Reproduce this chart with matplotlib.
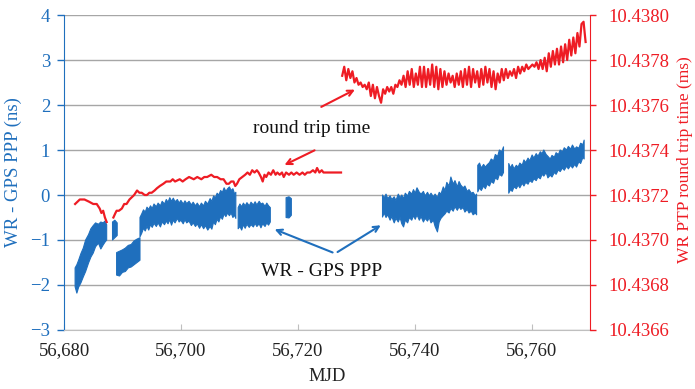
import numpy as np
import matplotlib
matplotlib.use("Agg")
import matplotlib.pyplot as plt
from matplotlib.ticker import MultipleLocator, StrMethodFormatter

# WR - GPS PPP (ns): envelope of the noisy band, NaN separates the data gaps
blue_mjd = [56681.9, 56682.2, 56682.5, 56682.9, 56683.3, 56683.7, 56684.2, 56684.6,
            56685.0, 56685.4, 56685.9, 56686.3, 56686.7, 56687.0, 56687.3, np.nan,
            56688.3, 56688.7, 56689.1, np.nan,
            56689.0, 56689.5, 56690.0, 56690.5, 56691.0, 56691.5, 56692.0, 56692.5, 56693.0, np.nan,
            56693.0, 56693.3, 56693.6, 56693.9, 56694.2, 56694.5, 56694.8, 56695.1, 56695.4,
            56695.8, 56696.1, 56696.5, 56696.8, 56697.2, 56697.5, 56697.8, 56698.1, 56698.4,
            56698.7, 56699.0, 56699.4, 56699.7, 56700.0, 56700.4, 56700.7, 56701.0, 56701.4,
            56701.8, 56702.1, 56702.5, 56702.8, 56703.2, 56703.5, 56703.9, 56704.2, 56704.6,
            56705.0, 56705.3, 56705.6, 56705.9, 56706.2, 56706.5, 56706.8, 56707.1, 56707.4,
            56707.7, 56708.0, 56708.3, 56708.6, 56708.9, 56709.2, 56709.4, np.nan,
            56709.8, 56710.1, 56710.4, 56710.7, 56711.0, 56711.3, 56711.7, 56712.0, 56712.4,
            56712.7, 56713.0, 56713.4, 56713.7, 56714.0, 56714.4, 56714.7, 56715.0, 56715.3, np.nan,
            56718.0, 56718.5, 56718.9, np.nan,
            56734.5, 56734.8, 56735.1, 56735.4, 56735.8, 56736.1, 56736.5, 56736.8, 56737.2,
            56737.5, 56737.8, 56738.1, 56738.4, 56738.8, 56739.1, 56739.5, 56739.8, 56740.1,
            56740.4, 56740.8, 56741.1, 56741.5, 56741.8, 56742.2, 56742.5, 56742.8, 56743.2,
            56743.5, 56743.9, 56744.2, 56744.5, 56744.9, 56745.2, 56745.5, 56745.9, 56746.2,
            56746.6, 56746.9, 56747.3, 56747.6, 56747.9, 56748.3, 56748.6, 56749.0, 56749.3,
            56749.7, 56750.0, 56750.4, 56750.6, np.nan,
            56750.8, 56751.1, 56751.4, 56751.8, 56752.1, 56752.4, 56752.8, 56753.1, 56753.5,
            56753.8, 56754.2, 56754.5, 56754.9, 56755.2, np.nan,
            56756.1, 56756.4, 56756.7, 56757.0, 56757.4, 56757.7, 56758.0, 56758.4, 56758.7,
            56759.0, 56759.4, 56759.7, 56760.1, 56760.4, 56760.8, 56761.1, 56761.5, 56761.8,
            56762.1, 56762.5, 56762.8, 56763.2, 56763.5, 56763.9, 56764.2, 56764.6, 56764.9,
            56765.3, 56765.6, 56766.0, 56766.3, 56766.7, 56767.0, 56767.4, 56767.7, 56768.1,
            56768.4, 56768.8, 56769.0]
blue_low = [-2.04, -2.18, -2.05, -1.95, -1.82, -1.70, -1.51, -1.38,
            -1.29, -1.15, -1.07, -1.20, -1.11, -1.05, -1.00, np.nan,
            -1.00, -0.95, -0.90, np.nan,
            -1.78, -1.80, -1.72, -1.70, -1.62, -1.60, -1.55, -1.50, -1.45, np.nan,
            -0.93, -0.85, -0.74, -0.80, -0.70, -0.78, -0.66, -0.72, -0.63,
            -0.70, -0.62, -0.71, -0.60, -0.66, -0.58, -0.64, -0.55, -0.67,
            -0.56, -0.62, -0.52, -0.60, -0.56, -0.64, -0.55, -0.62, -0.58,
            -0.68, -0.62, -0.70, -0.64, -0.74, -0.66, -0.75, -0.68, -0.78,
            -0.70, -0.76, -0.60, -0.66, -0.54, -0.60, -0.48, -0.54, -0.42,
            -0.48, -0.40, -0.46, -0.40, -0.50, -0.45, -0.52, np.nan,
            -0.75, -0.70, -0.78, -0.66, -0.74, -0.65, -0.72, -0.66, -0.71,
            -0.63, -0.70, -0.64, -0.73, -0.64, -0.70, -0.62, -0.67, -0.60, np.nan,
            -0.50, -0.51, -0.45, np.nan,
            -0.49, -0.40, -0.50, -0.44, -0.56, -0.48, -0.62, -0.52, -0.60,
            -0.50, -0.64, -0.71, -0.56, -0.62, -0.50, -0.56, -0.46, -0.54,
            -0.44, -0.56, -0.48, -0.60, -0.52, -0.58, -0.50, -0.62, -0.56,
            -0.70, -0.82, -0.60, -0.52, -0.46, -0.42, -0.36, -0.40, -0.30,
            -0.36, -0.26, -0.34, -0.26, -0.32, -0.28, -0.38, -0.32, -0.40,
            -0.36, -0.44, -0.40, -0.44, np.nan,
            0.07, 0.16, 0.10, 0.20, 0.14, 0.24, 0.20, 0.30, 0.26,
            0.38, 0.34, 0.46, 0.42, 0.50, np.nan,
            0.04, 0.12, 0.08, 0.18, 0.14, 0.22, 0.16, 0.26, 0.20,
            0.28, 0.24, 0.32, 0.28, 0.36, 0.32, 0.40, 0.36, 0.46,
            0.42, 0.50, 0.38, 0.44, 0.40, 0.50, 0.46, 0.56, 0.52,
            0.60, 0.55, 0.64, 0.58, 0.66, 0.60, 0.68, 0.62, 0.74,
            0.70, 0.84, 0.80]
blue_high = [-1.62, -1.55, -1.45, -1.30, -1.18, -1.00, -0.88, -0.75,
             -0.68, -0.62, -0.65, -0.60, -0.62, -0.58, -0.66, np.nan,
             -0.60, -0.56, -0.62, np.nan,
             -1.28, -1.25, -1.22, -1.18, -1.12, -1.10, -1.02, -0.98, -0.95, np.nan,
             -0.50, -0.42, -0.33, -0.38, -0.27, -0.32, -0.24, -0.30, -0.20,
             -0.26, -0.18, -0.24, -0.14, -0.20, -0.10, -0.16, -0.06, -0.14,
             -0.07, -0.15, -0.10, -0.18, -0.12, -0.20, -0.13, -0.19, -0.14,
             -0.22, -0.16, -0.24, -0.18, -0.26, -0.18, -0.24, -0.14, -0.20,
             -0.08, -0.14, -0.02, -0.06, 0.04, 0.00, 0.10, 0.06, 0.16,
             0.08, 0.14, 0.18, 0.10, 0.14, 0.02, 0.06, np.nan,
             -0.28, -0.20, -0.26, -0.18, -0.24, -0.17, -0.24, -0.16, -0.22,
             -0.15, -0.22, -0.14, -0.20, -0.18, -0.25, -0.18, -0.24, -0.28, np.nan,
             -0.06, -0.04, -0.08, np.nan,
             0.00, -0.06, 0.02, -0.08, -0.02, -0.10, -0.04, -0.12, 0.02,
             -0.06, 0.00, -0.08, 0.04, -0.02, 0.08, 0.02, 0.12, 0.04,
             0.16, 0.06, 0.02, 0.08, -0.02, 0.06, -0.02, 0.04, -0.04,
             0.02, -0.06, 0.06, 0.02, 0.18, 0.10, 0.28, 0.20, 0.40,
             0.24, 0.32, 0.18, 0.30, 0.22, 0.16, 0.20, 0.08, 0.12,
             0.04, 0.06, -0.02, 0.02, np.nan,
             0.66, 0.71, 0.60, 0.68, 0.62, 0.67, 0.72, 0.80, 0.76,
             0.90, 0.86, 1.00, 0.96, 1.07, np.nan,
             0.70, 0.60, 0.68, 0.58, 0.66, 0.62, 0.71, 0.66, 0.78,
             0.72, 0.82, 0.76, 0.89, 0.82, 0.92, 0.86, 0.96, 0.92,
             1.00, 0.90, 0.86, 0.80, 0.88, 0.84, 0.94, 0.90, 1.00,
             0.96, 1.05, 1.00, 1.08, 1.02, 1.11, 1.02, 1.07, 1.04,
             1.15, 1.12, 1.22]

# WR PTP round trip time (ms), first two pieces
red_mjd = [56681.9, 56682.7, 56683.5, 56684.3, 56685.0, 56685.6, 56686.1, 56686.4,
           56686.7, 56687.0, 56687.3, np.nan,
           56688.45, 56688.8, 56689.0, 56689.4, 56689.9, 56690.3, 56690.7, 56691.2,
           56691.6, 56692.0, 56692.5, 56692.9, 56693.3, 56693.8, 56694.2, 56694.6,
           56695.0, 56695.5, 56695.9, 56696.4, 56697.0, 56697.5, 56698.2, 56698.6,
           56699.0, 56699.8, 56700.3, 56700.8, 56701.4, 56702.2, 56702.8, 56703.5,
           56704.0, 56704.5, 56705.2, 56705.7, 56706.2, 56706.8, 56707.3, 56707.8,
           56708.2, 56708.6, 56709.0, 56709.3, 56709.6, 56710.0, 56710.5, 56711.0,
           56711.4, 56711.8, 56712.2, 56712.6, 56713.0, 56713.3, 56713.7, 56714.0,
           56714.3, 56714.6, 56715.0, 56715.4, 56715.8, 56716.2, 56716.5, 56716.9,
           56717.3, 56717.6, 56718.0, 56718.5, 56718.9, 56719.3, 56719.8, 56720.3,
           56720.8, 56721.2, 56721.6, 56722.1, 56722.6, 56723.0, 56723.3, 56723.7,
           56724.1, 56724.4, 56725.0, 56726.0, 56727.4]
red_ms = [10.43716, 10.43718, 10.43718, 10.43717, 10.43716, 10.43716, 10.43714, 10.43712,
          10.43713, 10.43710, 10.43708, np.nan,
          10.43710, 10.43712, 10.43713, 10.43713, 10.43714, 10.43716, 10.43716, 10.43718,
          10.43719, 10.43720, 10.43722, 10.43721, 10.43721, 10.43720, 10.43720, 10.43721,
          10.43721, 10.43722, 10.43723, 10.43724, 10.43725, 10.43726, 10.43726, 10.43727,
          10.43726, 10.43727, 10.43726, 10.43727, 10.43728, 10.43727, 10.43728, 10.43727,
          10.43728, 10.43728, 10.43729, 10.43728, 10.43728, 10.43727, 10.43727, 10.43725,
          10.43725, 10.43726, 10.43726, 10.43724, 10.43725, 10.43727, 10.43728, 10.43729,
          10.43730, 10.43729, 10.43731, 10.43730, 10.43731, 10.43730, 10.43728, 10.43726,
          10.43729, 10.43728, 10.43730, 10.43729, 10.43731, 10.43729, 10.43730, 10.43729,
          10.43730, 10.43728, 10.43730, 10.43729, 10.43730, 10.43729, 10.43730, 10.43729,
          10.43730, 10.43729, 10.43730, 10.43730, 10.43731, 10.43730, 10.43732, 10.43730,
          10.43731, 10.43730, 10.43730, 10.43730, 10.43730]

# last piece, sampled evenly from red_late_start to red_late_end
red_late_start, red_late_end = 56727.6, 56769.25
red_late_ms = [10.43773, 10.43777, 10.43771, 10.43776, 10.43772, 10.43775, 10.43770, 10.43772,
               10.43769, 10.43770, 10.43768, 10.43769, 10.43767, 10.43770, 10.43764, 10.43769,
               10.43763, 10.43768, 10.43764, 10.43761, 10.43767, 10.43765, 10.43768, 10.43766,
               10.43768, 10.43765, 10.43769, 10.43768, 10.43771, 10.43769, 10.43773, 10.43768,
               10.43775, 10.43769, 10.43776, 10.43768, 10.43774, 10.43769, 10.43777, 10.43768,
               10.43777, 10.43768, 10.43776, 10.43769, 10.43778, 10.43768, 10.43777, 10.43767,
               10.43776, 10.43768, 10.43775, 10.43769, 10.43774, 10.43770, 10.43773, 10.43768,
               10.43774, 10.43769, 10.43775, 10.43768, 10.43776, 10.43769, 10.43777, 10.43768,
               10.43776, 10.43770, 10.43775, 10.43768, 10.43776, 10.43769, 10.43777, 10.43770,
               10.43776, 10.43768, 10.43775, 10.43767, 10.43774, 10.43770, 10.43776, 10.43771,
               10.43776, 10.43772, 10.43775, 10.43773, 10.43776, 10.43772, 10.43777, 10.43774,
               10.43777, 10.43775, 10.43778, 10.43776, 10.43777, 10.43778, 10.43777, 10.43779,
               10.43776, 10.43780, 10.43776, 10.43781, 10.43775, 10.43783, 10.43777, 10.43784,
               10.43778, 10.43785, 10.43778, 10.43786, 10.43779, 10.43787, 10.43780, 10.43789,
               10.43782, 10.43790, 10.43783, 10.43792, 10.43786, 10.43796, 10.43797, 10.43788]

x_ticks = [56680, 56700, 56720, 56740, 56760]
right_ticks = [10.4366, 10.4368, 10.4370, 10.4372, 10.4374, 10.4376, 10.4378, 10.4380]

BLUE = "#1f6fbd"
RED = "#ee1c24"
GRID = "#a6a6a6"

plt.rcParams["font.family"] = ["Liberation Serif", "DejaVu Serif"]
plt.rcParams["axes.unicode_minus"] = True

fig = plt.figure(figsize=(6.95, 3.89), dpi=100)
ax = fig.add_axes([0.0921, 0.1517, 0.7568, 0.8097])
ax2 = ax.twinx()

# 蓝色数据带
ax.fill_between(blue_mjd, blue_low, blue_high, color=BLUE, lw=0.8, zorder=3)

# 红色往返时间
red_late_mjd = np.linspace(red_late_start, red_late_end, len(red_late_ms))
ax2.plot(red_mjd, red_ms, color=RED, lw=1.6)
ax2.plot(red_late_mjd, red_late_ms, color=RED, lw=1.6)

# 坐标轴范围和刻度
ax.set_xlim(56680, 56770)
ax.set_xticks(x_ticks)
ax.xaxis.set_major_formatter(StrMethodFormatter("{x:,.0f}"))
ax.set_ylim(-3, 4)
ax.yaxis.set_major_locator(MultipleLocator(1))
ax2.set_ylim(10.4366, 10.4380)
ax2.set_yticks(right_ticks)
ax2.yaxis.set_major_formatter(StrMethodFormatter("{x:.4f}"))

ax.yaxis.grid(True, color=GRID, lw=1.0)
ax.set_axisbelow(True)

for s in ["top", "right"]:
    ax.spines[s].set_visible(False)
for s in ["top", "left", "bottom"]:
    ax2.spines[s].set_visible(False)
ax.spines["left"].set_color(BLUE)
ax.spines["bottom"].set_color("#bfbfbf")
ax2.spines["right"].set_color(RED)

ax.tick_params(axis="y", colors=BLUE, direction="out", length=5, width=1,
               labelsize=13.5, pad=5)
ax.tick_params(axis="x", direction="in", length=4, color="#bfbfbf",
               labelcolor="#222222", labelsize=13.5, pad=9)
ax2.tick_params(axis="y", colors=RED, direction="out", length=4, width=1,
                labelsize=13.5, pad=9)

ax.set_xlabel("MJD", fontsize=13.5, color="#222222", labelpad=6)
ax.set_ylabel("WR - GPS PPP (ns)", fontsize=13.5, color=BLUE)
ax.yaxis.set_label_coords(-0.080, 0.5)
ax2.set_ylabel("WR PTP round trip time (ms)", fontsize=12.5, color=RED)
ax2.yaxis.set_label_coords(1.165, 0.54)

# 注释文字和箭头
ax.text(56722.3, 1.47, "round trip time", fontsize=14, color="#111111",
        ha="center", va="center", zorder=5)
ax.annotate("", xy=(56730.2, 2.37), xytext=(56723.6, 1.93),
            arrowprops=dict(arrowstyle="->", color=RED, lw=1.5), zorder=5)
ax.annotate("", xy=(56717.3, 0.64), xytext=(56723.3, 1.02),
            arrowprops=dict(arrowstyle="->", color=RED, lw=1.5), zorder=5)

ax.text(56724.0, -1.69, "WR - GPS PPP", fontsize=14, color="#111111",
        ha="center", va="center", zorder=5)
ax.annotate("", xy=(56715.6, -0.74), xytext=(56726.4, -1.30),
            arrowprops=dict(arrowstyle="->", color=BLUE, lw=1.5), zorder=5)
ax.annotate("", xy=(56734.6, -0.64), xytext=(56726.4, -1.30),
            arrowprops=dict(arrowstyle="->", color=BLUE, lw=1.5), zorder=5)

fig.savefig("out.png", dpi=100)
